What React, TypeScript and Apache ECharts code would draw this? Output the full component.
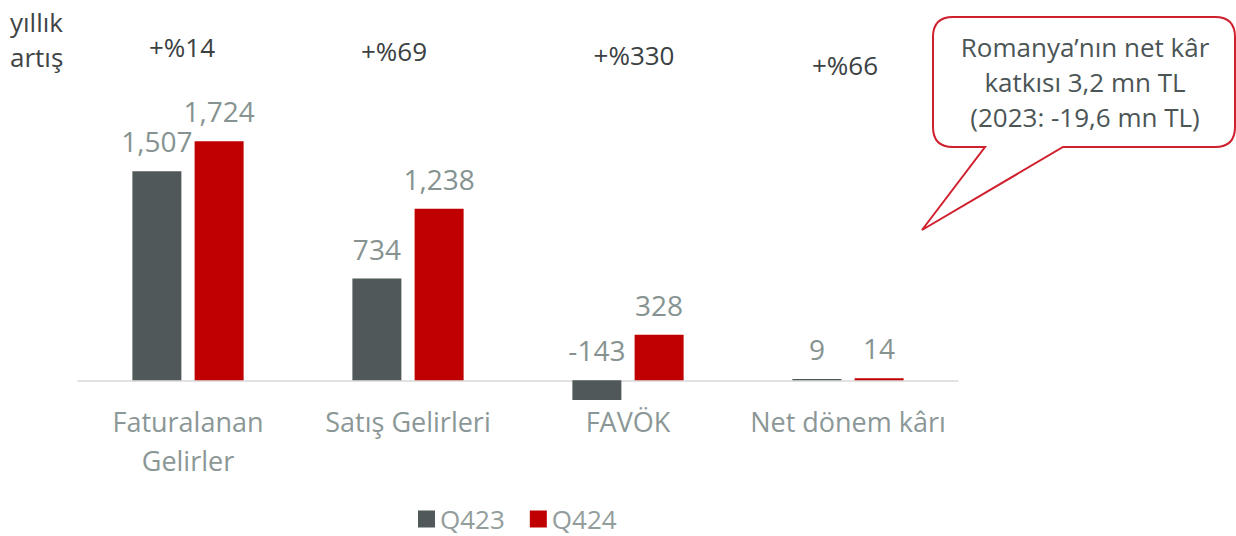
import React, { useEffect, useRef } from "react";
import * as echarts from "echarts";

const categories = ["Faturalanan\nGelirler", "Satış Gelirleri", "FAVÖK", "Net dönem kârı"];
const q423 = [1507, 734, -143, 9];
const q424 = [1724, 1238, 328, 14];
const growthLabels = ["+%14", "+%69", "+%330", "+%66"];
const seriesNames = ["Q423", "Q424"];
const calloutLines = ["Romanya’nın net kâr", "katkısı 3,2 mn TL", "(2023: -19,6 mn TL)"];

const FONT = "'Open Sans', 'Noto Sans', sans-serif";
const growthY = [47, 51, 55, 65];
const growthDx = [-6, -14, 6, -3];

const calloutPath =
  "M 953 17 H 1215 Q 1235 17 1235 37 V 127 Q 1235 147 1215 147 H 1063 L 922 230 L 985 147 H 953 Q 933 147 933 127 V 37 Q 933 17 953 17 Z";

export default function App() {
  const ref = useRef<HTMLDivElement>(null);
  useEffect(() => {
    if (!ref.current) return;
    try {
      echarts.graphic.registerShape("callout", echarts.graphic.extendPath(calloutPath, {}));
    } catch (e) {}
    const chart = echarts.init(ref.current, null, { renderer: "svg" });
    const labelStyle = {
      show: true,
      position: "top" as const,
      distance: 16,
      fontSize: 28,
      fontFamily: FONT,
      color: "#869391",
      formatter: (p: any) => Number(p.value).toLocaleString("en-US"),
    };
    chart.setOption({
      animation: false,
      backgroundColor: "#ffffff",
      grid: { left: 78, right: 278, top: 103, height: 305 },
      legend: {
        left: 418,
        top: 506,
        padding: 0,
        itemWidth: 17,
        itemHeight: 17,
        itemGap: 25,
        icon: "rect",
        textStyle: { fontSize: 26, lineHeight: 26, fontFamily: FONT, color: "#929d9c" },
        data: seriesNames,
      },
      xAxis: {
        type: "category",
        data: categories,
        axisLine: { show: true, lineStyle: { color: "#d9d9d9", width: 1.5 } },
        axisTick: { show: false },
        axisLabel: {
          margin: -6,
          fontSize: 27,
          lineHeight: 39,
          fontFamily: FONT,
          color: "#8b9796",
          interval: 0,
        },
      },
      yAxis: {
        type: "value",
        min: -200,
        max: 2000,
        show: false,
        splitLine: { show: false },
      },
      series: [
        {
          name: seriesNames[0],
          type: "bar",
          data: q423,
          barWidth: 49,
          barGap: "27%",
          itemStyle: { color: "#505859" },
          label: labelStyle,
        },
        {
          name: seriesNames[1],
          type: "bar",
          data: q424,
          barWidth: 49,
          itemStyle: { color: "#c00000" },
          label: labelStyle,
        },
      ],
    });

    const growthTexts = growthLabels.map((t, i) => {
      const px = chart.convertToPixel({ xAxisIndex: 0 }, i) as number;
      return {
        type: "text",
        x: px + growthDx[i],
        y: growthY[i],
        style: {
          text: t,
          fontSize: 26,
          fontFamily: FONT,
          fill: "#3b4142",
          align: "center",
          verticalAlign: "middle",
        },
      };
    });

    chart.setOption({
      graphic: [
        {
          type: "text",
          x: 10,
          y: 22,
          style: { text: "yıllık", fontSize: 26, fontFamily: FONT, fill: "#3f4546", verticalAlign: "middle" },
        },
        {
          type: "text",
          x: 10,
          y: 57,
          style: { text: "artış", fontSize: 26, fontFamily: FONT, fill: "#3f4546", verticalAlign: "middle" },
        },
        ...growthTexts,
        {
          type: "callout",
          x: 0,
          y: 0,
          style: { fill: "#ffffff", stroke: "#d0202e", lineWidth: 2 },
        },
        ...calloutLines.map((t, i) => ({
          type: "text",
          x: 1085,
          y: 47 + i * 35,
          style: {
            text: t,
            fontSize: 26,
            fontFamily: FONT,
            fill: "#4b5556",
            align: "center",
            verticalAlign: "middle",
          },
        })),
      ],
    });
    return () => chart.dispose();
  }, []);
  return (
    <div
      ref={ref}
      style={{ position: "fixed", left: 0, top: 0, width: 1236, height: 536, background: "#fff" }}
    />
  );
}
